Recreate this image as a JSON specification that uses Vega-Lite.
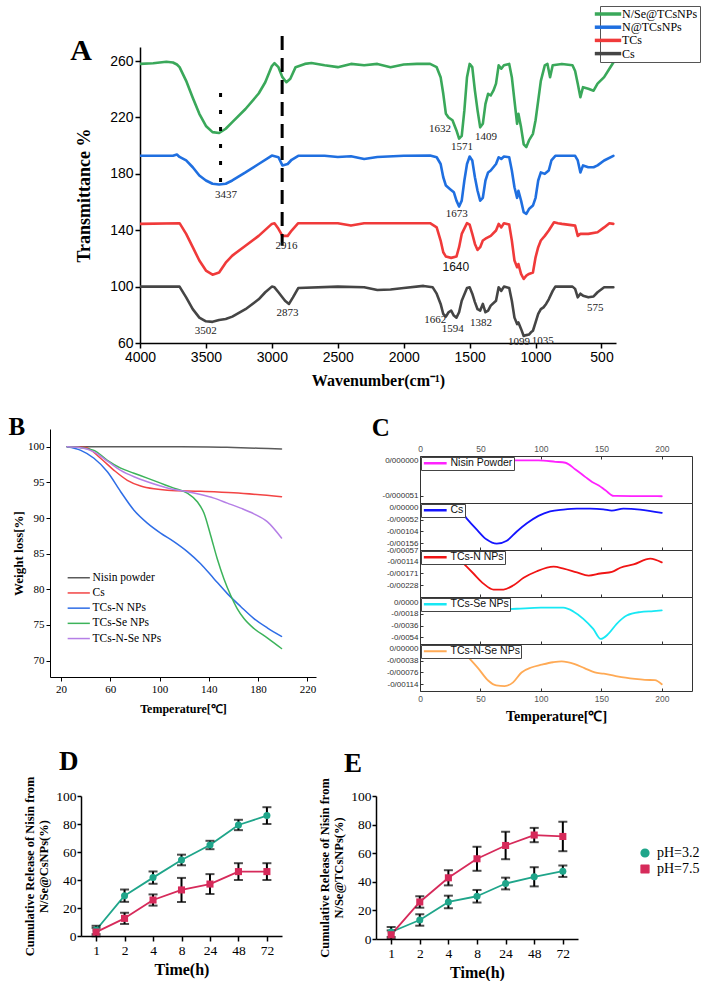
{
"$schema": "https://vega.github.io/schema/vega-lite/v6.json",
"background": "white",
"padding": {"left": 7, "top": 5, "right": 0, "bottom": 0},
"spacing": 27,
"resolve": {"scale": {"color": "independent", "shape": "independent", "strokeDash": "independent"}},
"config": {
  "view": {"stroke": null},
  "font": "Liberation Serif",
  "axis": {"grid": false, "domainColor": "#000", "tickColor": "#000", "labelColor": "#000", "titleColor": "#000", "labelFont": "Liberation Serif", "titleFont": "Liberation Serif", "labelFlush": false, "labelOverlap": false},
  "line": {"strokeCap": "round", "strokeJoin": "round"}
},
"datasets": {
  "ftir": [
{"s":"N/Se@TCsNPs","w":4000,"t":258},{"s":"N/Se@TCsNPs","w":3900,"t":258.5},{"s":"N/Se@TCsNPs","w":3800,"t":259.5},{"s":"N/Se@TCsNPs","w":3750,"t":259},{"s":"N/Se@TCsNPs","w":3720,"t":257.6},{"s":"N/Se@TCsNPs","w":3700,"t":255.7},{"s":"N/Se@TCsNPs","w":3650,"t":246},{"s":"N/Se@TCsNPs","w":3600,"t":234},{"s":"N/Se@TCsNPs","w":3550,"t":222.6},{"s":"N/Se@TCsNPs","w":3500,"t":214},{"s":"N/Se@TCsNPs","w":3450,"t":209.6},{"s":"N/Se@TCsNPs","w":3400,"t":209},{"s":"N/Se@TCsNPs","w":3350,"t":212},{"s":"N/Se@TCsNPs","w":3300,"t":216.7},{"s":"N/Se@TCsNPs","w":3200,"t":226},{"s":"N/Se@TCsNPs","w":3100,"t":237},{"s":"N/Se@TCsNPs","w":3050,"t":245},{"s":"N/Se@TCsNPs","w":3000,"t":256.5},{"s":"N/Se@TCsNPs","w":2980,"t":258.5},{"s":"N/Se@TCsNPs","w":2950,"t":255.7},{"s":"N/Se@TCsNPs","w":2920,"t":248.6},{"s":"N/Se@TCsNPs","w":2890,"t":245},{"s":"N/Se@TCsNPs","w":2860,"t":247.5},{"s":"N/Se@TCsNPs","w":2820,"t":255.7},{"s":"N/Se@TCsNPs","w":2750,"t":258},{"s":"N/Se@TCsNPs","w":2700,"t":258.6},{"s":"N/Se@TCsNPs","w":2600,"t":257},{"s":"N/Se@TCsNPs","w":2500,"t":255.7},{"s":"N/Se@TCsNPs","w":2400,"t":258},{"s":"N/Se@TCsNPs","w":2300,"t":257},{"s":"N/Se@TCsNPs","w":2200,"t":258},{"s":"N/Se@TCsNPs","w":2100,"t":255.7},{"s":"N/Se@TCsNPs","w":2000,"t":257.6},{"s":"N/Se@TCsNPs","w":1900,"t":258},{"s":"N/Se@TCsNPs","w":1800,"t":258},{"s":"N/Se@TCsNPs","w":1750,"t":255.7},{"s":"N/Se@TCsNPs","w":1720,"t":248.6},{"s":"N/Se@TCsNPs","w":1700,"t":236.8},{"s":"N/Se@TCsNPs","w":1680,"t":222.6},{"s":"N/Se@TCsNPs","w":1660,"t":220},{"s":"N/Se@TCsNPs","w":1630,"t":218},{"s":"N/Se@TCsNPs","w":1600,"t":210.8},{"s":"N/Se@TCsNPs","w":1580,"t":205},{"s":"N/Se@TCsNPs","w":1560,"t":207},{"s":"N/Se@TCsNPs","w":1540,"t":225},{"s":"N/Se@TCsNPs","w":1520,"t":248.6},{"s":"N/Se@TCsNPs","w":1500,"t":258},{"s":"N/Se@TCsNPs","w":1480,"t":255.7},{"s":"N/Se@TCsNPs","w":1460,"t":239},{"s":"N/Se@TCsNPs","w":1440,"t":225},{"s":"N/Se@TCsNPs","w":1420,"t":213},{"s":"N/Se@TCsNPs","w":1400,"t":215.5},{"s":"N/Se@TCsNPs","w":1380,"t":229.7},{"s":"N/Se@TCsNPs","w":1360,"t":236.8},{"s":"N/Se@TCsNPs","w":1340,"t":235.6},{"s":"N/Se@TCsNPs","w":1320,"t":239},{"s":"N/Se@TCsNPs","w":1300,"t":244},{"s":"N/Se@TCsNPs","w":1280,"t":257},{"s":"N/Se@TCsNPs","w":1260,"t":254.6},{"s":"N/Se@TCsNPs","w":1240,"t":257},{"s":"N/Se@TCsNPs","w":1200,"t":258},{"s":"N/Se@TCsNPs","w":1180,"t":248.6},{"s":"N/Se@TCsNPs","w":1160,"t":232},{"s":"N/Se@TCsNPs","w":1140,"t":215.5},{"s":"N/Se@TCsNPs","w":1130,"t":222.6},{"s":"N/Se@TCsNPs","w":1110,"t":213},{"s":"N/Se@TCsNPs","w":1090,"t":201},{"s":"N/Se@TCsNPs","w":1070,"t":199},{"s":"N/Se@TCsNPs","w":1050,"t":203.7},{"s":"N/Se@TCsNPs","w":1020,"t":208.4},{"s":"N/Se@TCsNPs","w":1000,"t":218},{"s":"N/Se@TCsNPs","w":980,"t":232},{"s":"N/Se@TCsNPs","w":960,"t":246},{"s":"N/Se@TCsNPs","w":930,"t":257},{"s":"N/Se@TCsNPs","w":910,"t":258},{"s":"N/Se@TCsNPs","w":890,"t":248.6},{"s":"N/Se@TCsNPs","w":870,"t":257},{"s":"N/Se@TCsNPs","w":800,"t":258},{"s":"N/Se@TCsNPs","w":720,"t":257},{"s":"N/Se@TCsNPs","w":700,"t":253},{"s":"N/Se@TCsNPs","w":680,"t":244},{"s":"N/Se@TCsNPs","w":660,"t":234.4},{"s":"N/Se@TCsNPs","w":640,"t":241.5},{"s":"N/Se@TCsNPs","w":600,"t":240.4},{"s":"N/Se@TCsNPs","w":560,"t":239},{"s":"N/Se@TCsNPs","w":530,"t":244},{"s":"N/Se@TCsNPs","w":480,"t":248.6},{"s":"N/Se@TCsNPs","w":440,"t":254.6},{"s":"N/Se@TCsNPs","w":410,"t":259},
{"s":"N@TCsNPs","w":4000,"t":192.8},{"s":"N@TCsNPs","w":3750,"t":192.8},{"s":"N@TCsNPs","w":3720,"t":193.7},{"s":"N@TCsNPs","w":3700,"t":192},{"s":"N@TCsNPs","w":3650,"t":189.5},{"s":"N@TCsNPs","w":3600,"t":184.7},{"s":"N@TCsNPs","w":3550,"t":178.8},{"s":"N@TCsNPs","w":3500,"t":175.3},{"s":"N@TCsNPs","w":3450,"t":173},{"s":"N@TCsNPs","w":3400,"t":172.4},{"s":"N@TCsNPs","w":3350,"t":173},{"s":"N@TCsNPs","w":3300,"t":175.3},{"s":"N@TCsNPs","w":3200,"t":181},{"s":"N@TCsNPs","w":3100,"t":187},{"s":"N@TCsNPs","w":3000,"t":193},{"s":"N@TCsNPs","w":2950,"t":191.8},{"s":"N@TCsNPs","w":2920,"t":186},{"s":"N@TCsNPs","w":2880,"t":187},{"s":"N@TCsNPs","w":2850,"t":190},{"s":"N@TCsNPs","w":2800,"t":192.8},{"s":"N@TCsNPs","w":2600,"t":192.8},{"s":"N@TCsNPs","w":2500,"t":192},{"s":"N@TCsNPs","w":2400,"t":192.5},{"s":"N@TCsNPs","w":2300,"t":190.6},{"s":"N@TCsNPs","w":2200,"t":192},{"s":"N@TCsNPs","w":2000,"t":192.8},{"s":"N@TCsNPs","w":1800,"t":193},{"s":"N@TCsNPs","w":1750,"t":191.8},{"s":"N@TCsNPs","w":1720,"t":187},{"s":"N@TCsNPs","w":1700,"t":177.6},{"s":"N@TCsNPs","w":1680,"t":171.7},{"s":"N@TCsNPs","w":1650,"t":169.3},{"s":"N@TCsNPs","w":1620,"t":167},{"s":"N@TCsNPs","w":1600,"t":161},{"s":"N@TCsNPs","w":1580,"t":156.8},{"s":"N@TCsNPs","w":1560,"t":161},{"s":"N@TCsNPs","w":1540,"t":175.3},{"s":"N@TCsNPs","w":1520,"t":187},{"s":"N@TCsNPs","w":1500,"t":192.3},{"s":"N@TCsNPs","w":1480,"t":189.5},{"s":"N@TCsNPs","w":1460,"t":177.6},{"s":"N@TCsNPs","w":1440,"t":168},{"s":"N@TCsNPs","w":1420,"t":161},{"s":"N@TCsNPs","w":1400,"t":163},{"s":"N@TCsNPs","w":1380,"t":175.3},{"s":"N@TCsNPs","w":1360,"t":181},{"s":"N@TCsNPs","w":1340,"t":182.4},{"s":"N@TCsNPs","w":1300,"t":187},{"s":"N@TCsNPs","w":1280,"t":191.8},{"s":"N@TCsNPs","w":1260,"t":190.6},{"s":"N@TCsNPs","w":1240,"t":192.3},{"s":"N@TCsNPs","w":1200,"t":191.8},{"s":"N@TCsNPs","w":1180,"t":182.4},{"s":"N@TCsNPs","w":1160,"t":170.5},{"s":"N@TCsNPs","w":1140,"t":163},{"s":"N@TCsNPs","w":1130,"t":168},{"s":"N@TCsNPs","w":1110,"t":161},{"s":"N@TCsNPs","w":1090,"t":152.8},{"s":"N@TCsNPs","w":1070,"t":151.6},{"s":"N@TCsNPs","w":1050,"t":155},{"s":"N@TCsNPs","w":1020,"t":157.5},{"s":"N@TCsNPs","w":1000,"t":163},{"s":"N@TCsNPs","w":980,"t":175.3},{"s":"N@TCsNPs","w":960,"t":181},{"s":"N@TCsNPs","w":930,"t":180},{"s":"N@TCsNPs","w":900,"t":182.4},{"s":"N@TCsNPs","w":880,"t":189.5},{"s":"N@TCsNPs","w":850,"t":192.8},{"s":"N@TCsNPs","w":700,"t":192.8},{"s":"N@TCsNPs","w":680,"t":189.5},{"s":"N@TCsNPs","w":660,"t":181},{"s":"N@TCsNPs","w":640,"t":186},{"s":"N@TCsNPs","w":600,"t":184.7},{"s":"N@TCsNPs","w":560,"t":184.7},{"s":"N@TCsNPs","w":530,"t":186},{"s":"N@TCsNPs","w":480,"t":189.5},{"s":"N@TCsNPs","w":410,"t":192.8},
{"s":"TCs","w":4000,"t":144.5},{"s":"TCs","w":3700,"t":145},{"s":"TCs","w":3650,"t":137.4},{"s":"TCs","w":3600,"t":128},{"s":"TCs","w":3550,"t":118.5},{"s":"TCs","w":3500,"t":111.4},{"s":"TCs","w":3450,"t":108.5},{"s":"TCs","w":3400,"t":110},{"s":"TCs","w":3350,"t":117},{"s":"TCs","w":3300,"t":122},{"s":"TCs","w":3200,"t":129},{"s":"TCs","w":3100,"t":136},{"s":"TCs","w":3000,"t":144.5},{"s":"TCs","w":2980,"t":145},{"s":"TCs","w":2950,"t":141},{"s":"TCs","w":2920,"t":136},{"s":"TCs","w":2880,"t":136},{"s":"TCs","w":2850,"t":139.8},{"s":"TCs","w":2800,"t":145},{"s":"TCs","w":2500,"t":145},{"s":"TCs","w":2400,"t":143.3},{"s":"TCs","w":2300,"t":145},{"s":"TCs","w":1800,"t":145},{"s":"TCs","w":1750,"t":142},{"s":"TCs","w":1720,"t":132.7},{"s":"TCs","w":1700,"t":124.4},{"s":"TCs","w":1680,"t":121.3},{"s":"TCs","w":1640,"t":120.4},{"s":"TCs","w":1600,"t":121.3},{"s":"TCs","w":1580,"t":128},{"s":"TCs","w":1560,"t":137.4},{"s":"TCs","w":1520,"t":145},{"s":"TCs","w":1500,"t":144},{"s":"TCs","w":1480,"t":137.4},{"s":"TCs","w":1460,"t":130.3},{"s":"TCs","w":1440,"t":126},{"s":"TCs","w":1420,"t":128},{"s":"TCs","w":1400,"t":132.7},{"s":"TCs","w":1380,"t":134},{"s":"TCs","w":1340,"t":136},{"s":"TCs","w":1300,"t":139.8},{"s":"TCs","w":1280,"t":144.5},{"s":"TCs","w":1260,"t":142},{"s":"TCs","w":1240,"t":145},{"s":"TCs","w":1200,"t":144},{"s":"TCs","w":1180,"t":132.7},{"s":"TCs","w":1160,"t":118.5},{"s":"TCs","w":1140,"t":113.8},{"s":"TCs","w":1130,"t":116},{"s":"TCs","w":1110,"t":109},{"s":"TCs","w":1090,"t":105.4},{"s":"TCs","w":1070,"t":107.8},{"s":"TCs","w":1050,"t":109},{"s":"TCs","w":1020,"t":110},{"s":"TCs","w":1000,"t":120.8},{"s":"TCs","w":980,"t":128},{"s":"TCs","w":960,"t":132.7},{"s":"TCs","w":930,"t":136},{"s":"TCs","w":900,"t":139.8},{"s":"TCs","w":860,"t":145.7},{"s":"TCs","w":830,"t":145},{"s":"TCs","w":800,"t":144.5},{"s":"TCs","w":700,"t":143.3},{"s":"TCs","w":680,"t":136},{"s":"TCs","w":660,"t":137.4},{"s":"TCs","w":600,"t":137.4},{"s":"TCs","w":530,"t":138.6},{"s":"TCs","w":480,"t":142},{"s":"TCs","w":440,"t":145},{"s":"TCs","w":410,"t":144.5},
{"s":"Cs","w":4000,"t":100},{"s":"Cs","w":3700,"t":100},{"s":"Cs","w":3650,"t":92.4},{"s":"Cs","w":3600,"t":84},{"s":"Cs","w":3550,"t":78},{"s":"Cs","w":3500,"t":75.4},{"s":"Cs","w":3450,"t":75},{"s":"Cs","w":3400,"t":76.3},{"s":"Cs","w":3350,"t":77},{"s":"Cs","w":3300,"t":78.7},{"s":"Cs","w":3200,"t":84},{"s":"Cs","w":3100,"t":91},{"s":"Cs","w":3050,"t":96},{"s":"Cs","w":3000,"t":100},{"s":"Cs","w":2980,"t":99.5},{"s":"Cs","w":2950,"t":96},{"s":"Cs","w":2900,"t":90},{"s":"Cs","w":2870,"t":87.7},{"s":"Cs","w":2840,"t":92.4},{"s":"Cs","w":2800,"t":99},{"s":"Cs","w":2500,"t":100},{"s":"Cs","w":2300,"t":99.5},{"s":"Cs","w":2200,"t":97.6},{"s":"Cs","w":2100,"t":98},{"s":"Cs","w":2000,"t":99},{"s":"Cs","w":1850,"t":100.5},{"s":"Cs","w":1780,"t":99.5},{"s":"Cs","w":1750,"t":95},{"s":"Cs","w":1720,"t":87.7},{"s":"Cs","w":1700,"t":80.6},{"s":"Cs","w":1680,"t":78.7},{"s":"Cs","w":1660,"t":81.8},{"s":"Cs","w":1640,"t":83},{"s":"Cs","w":1620,"t":79.5},{"s":"Cs","w":1600,"t":78},{"s":"Cs","w":1580,"t":81.8},{"s":"Cs","w":1560,"t":90},{"s":"Cs","w":1520,"t":99},{"s":"Cs","w":1500,"t":99.5},{"s":"Cs","w":1480,"t":95},{"s":"Cs","w":1460,"t":89},{"s":"Cs","w":1440,"t":84},{"s":"Cs","w":1420,"t":83},{"s":"Cs","w":1400,"t":87.7},{"s":"Cs","w":1380,"t":81.8},{"s":"Cs","w":1360,"t":83},{"s":"Cs","w":1340,"t":86.5},{"s":"Cs","w":1300,"t":90},{"s":"Cs","w":1280,"t":99.5},{"s":"Cs","w":1260,"t":97},{"s":"Cs","w":1240,"t":100},{"s":"Cs","w":1200,"t":99},{"s":"Cs","w":1180,"t":90},{"s":"Cs","w":1160,"t":78},{"s":"Cs","w":1140,"t":73.4},{"s":"Cs","w":1130,"t":74.6},{"s":"Cs","w":1110,"t":70},{"s":"Cs","w":1090,"t":65},{"s":"Cs","w":1070,"t":65.6},{"s":"Cs","w":1050,"t":66},{"s":"Cs","w":1035,"t":67.6},{"s":"Cs","w":1020,"t":68.7},{"s":"Cs","w":1000,"t":74.6},{"s":"Cs","w":980,"t":80.6},{"s":"Cs","w":960,"t":84},{"s":"Cs","w":940,"t":85.3},{"s":"Cs","w":920,"t":87.7},{"s":"Cs","w":900,"t":91},{"s":"Cs","w":870,"t":97},{"s":"Cs","w":850,"t":100},{"s":"Cs","w":720,"t":100},{"s":"Cs","w":700,"t":98.4},{"s":"Cs","w":680,"t":92.4},{"s":"Cs","w":660,"t":95},{"s":"Cs","w":640,"t":93.6},{"s":"Cs","w":600,"t":92.4},{"s":"Cs","w":560,"t":93},{"s":"Cs","w":530,"t":96},{"s":"Cs","w":480,"t":99.5},{"s":"Cs","w":410,"t":99.5}
  ],
  "ftir_notes": [
{"w":3348,"t":165.1,"lab":"3437"},{"w":2888,"t":128.9,"lab":"2916"},{"w":3502,"t":68.3,"lab":"3502"},{"w":2881,"t":81.1,"lab":"2873"},{"w":1725,"t":211.5,"lab":"1632"},{"w":1557,"t":198.9,"lab":"1571"},{"w":1375,"t":205.8,"lab":"1409"},{"w":1598,"t":151.6,"lab":"1673"},{"w":1760,"t":76.6,"lab":"1662"},{"w":1629,"t":70,"lab":"1594"},{"w":1413,"t":74.2,"lab":"1382"},{"w":1125,"t":60.5,"lab":"1099"},{"w":946,"t":61.4,"lab":"1035"},{"w":548,"t":84.8,"lab":"575"}
  ],
  "ftir_lines": [
{"w":3389,"t":237.3,"t2":172.9,"k":"dot"},{"w":2922,"t":277.8,"t2":129,"k":"dash"}
  ],
  "tga": [
{"s":"Nisin powder","T":25,"W":100},{"s":"Nisin powder","T":60,"W":100},{"s":"Nisin powder","T":100,"W":100},{"s":"Nisin powder","T":140,"W":99.98},{"s":"Nisin powder","T":160,"W":99.9},{"s":"Nisin powder","T":180,"W":99.8},{"s":"Nisin powder","T":199,"W":99.7},
{"s":"Cs","T":25,"W":100},{"s":"Cs","T":40,"W":99.9},{"s":"Cs","T":52,"W":98.4},{"s":"Cs","T":63,"W":96.7},{"s":"Cs","T":73.8,"W":95.3},{"s":"Cs","T":84.6,"W":94.5},{"s":"Cs","T":95.4,"W":94.1},{"s":"Cs","T":106.3,"W":93.9},{"s":"Cs","T":133.3,"W":93.75},{"s":"Cs","T":160,"W":93.55},{"s":"Cs","T":199,"W":93.0},
{"s":"TCs-N NPs","T":25,"W":100},{"s":"TCs-N NPs","T":36,"W":99.5},{"s":"TCs-N NPs","T":46.7,"W":98.4},{"s":"TCs-N NPs","T":57.6,"W":96.5},{"s":"TCs-N NPs","T":68.4,"W":93.7},{"s":"TCs-N NPs","T":79.2,"W":91.1},{"s":"TCs-N NPs","T":90,"W":89.3},{"s":"TCs-N NPs","T":100.8,"W":87.9},{"s":"TCs-N NPs","T":111.6,"W":86.7},{"s":"TCs-N NPs","T":122.5,"W":85.3},{"s":"TCs-N NPs","T":133.3,"W":83.6},{"s":"TCs-N NPs","T":144.1,"W":81.5},{"s":"TCs-N NPs","T":155,"W":79.4},{"s":"TCs-N NPs","T":165.8,"W":77.6},{"s":"TCs-N NPs","T":176.6,"W":75.9},{"s":"TCs-N NPs","T":187.4,"W":74.6},{"s":"TCs-N NPs","T":199,"W":73.4},
{"s":"TCs-Se NPs","T":25,"W":100},{"s":"TCs-Se NPs","T":35,"W":99.9},{"s":"TCs-Se NPs","T":46.7,"W":99.5},{"s":"TCs-Se NPs","T":57.6,"W":98.1},{"s":"TCs-Se NPs","T":68.4,"W":97},{"s":"TCs-Se NPs","T":79.2,"W":96.3},{"s":"TCs-Se NPs","T":90,"W":95.6},{"s":"TCs-Se NPs","T":100.8,"W":94.9},{"s":"TCs-Se NPs","T":111.6,"W":94.2},{"s":"TCs-Se NPs","T":122.5,"W":93.5},{"s":"TCs-Se NPs","T":130.6,"W":92.3},{"s":"TCs-Se NPs","T":136,"W":90.7},{"s":"TCs-Se NPs","T":141.4,"W":87.6},{"s":"TCs-Se NPs","T":146.8,"W":84.3},{"s":"TCs-Se NPs","T":152.2,"W":81.5},{"s":"TCs-Se NPs","T":157.6,"W":79.2},{"s":"TCs-Se NPs","T":163,"W":77.3},{"s":"TCs-Se NPs","T":168.5,"W":75.9},{"s":"TCs-Se NPs","T":176.6,"W":74.5},{"s":"TCs-Se NPs","T":187.4,"W":73.2},{"s":"TCs-Se NPs","T":199,"W":71.7},
{"s":"TCs-N-Se NPs","T":25,"W":100},{"s":"TCs-N-Se NPs","T":35,"W":99.9},{"s":"TCs-N-Se NPs","T":46.7,"W":99.3},{"s":"TCs-N-Se NPs","T":57.6,"W":98},{"s":"TCs-N-Se NPs","T":68.4,"W":96.7},{"s":"TCs-N-Se NPs","T":79.2,"W":95.8},{"s":"TCs-N-Se NPs","T":90,"W":95.1},{"s":"TCs-N-Se NPs","T":100.8,"W":94.5},{"s":"TCs-N-Se NPs","T":111.6,"W":94},{"s":"TCs-N-Se NPs","T":122.5,"W":93.7},{"s":"TCs-N-Se NPs","T":133.3,"W":93.3},{"s":"TCs-N-Se NPs","T":144.1,"W":92.8},{"s":"TCs-N-Se NPs","T":155,"W":92.1},{"s":"TCs-N-Se NPs","T":165.8,"W":91.4},{"s":"TCs-N-Se NPs","T":176.6,"W":90.6},{"s":"TCs-N-Se NPs","T":187.4,"W":89.5},{"s":"TCs-N-Se NPs","T":199,"W":87.2}
  ],
  "c1": [
{"s":"Nisin Powder","T":30,"v":0},{"s":"Nisin Powder","T":70,"v":0},{"s":"Nisin Powder","T":98,"v":0},{"s":"Nisin Powder","T":112,"v":-0.000002},{"s":"Nisin Powder","T":120.3,"v":-0.0000034},{"s":"Nisin Powder","T":128.6,"v":-0.000013},{"s":"Nisin Powder","T":136.9,"v":-0.000024},{"s":"Nisin Powder","T":142.4,"v":-0.000031},{"s":"Nisin Powder","T":147.9,"v":-0.000036},{"s":"Nisin Powder","T":153.4,"v":-0.000043},{"s":"Nisin Powder","T":160.3,"v":-0.000051},{"s":"Nisin Powder","T":175,"v":-0.0000512},{"s":"Nisin Powder","T":200,"v":-0.0000515}
  ],
  "c2": [
{"s":"Cs","T":25,"v":0},{"s":"Cs","T":31.8,"v":-0.00001},{"s":"Cs","T":38.7,"v":-0.00047},{"s":"Cs","T":47,"v":-0.00096},{"s":"Cs","T":55.2,"v":-0.0014},{"s":"Cs","T":63.5,"v":-0.00158},{"s":"Cs","T":71.8,"v":-0.00145},{"s":"Cs","T":80.1,"v":-0.00104},{"s":"Cs","T":88.4,"v":-0.00068},{"s":"Cs","T":98,"v":-0.00035},{"s":"Cs","T":107.6,"v":-0.00015},{"s":"Cs","T":118.6,"v":-0.00007},{"s":"Cs","T":129.7,"v":-0.00003},{"s":"Cs","T":140.7,"v":-0.00003},{"s":"Cs","T":151.7,"v":-0.00006},{"s":"Cs","T":158.6,"v":-0.00012},{"s":"Cs","T":168.3,"v":-0.00003},{"s":"Cs","T":182,"v":-0.00007},{"s":"Cs","T":200,"v":-0.00022}
  ],
  "c3": [
{"s":"TCs-N NPs","T":35.9,"v":-0.00122},{"s":"TCs-N NPs","T":44.2,"v":-0.00171},{"s":"TCs-N NPs","T":52.5,"v":-0.0022},{"s":"TCs-N NPs","T":60.8,"v":-0.00249},{"s":"TCs-N NPs","T":69.1,"v":-0.00249},{"s":"TCs-N NPs","T":77.4,"v":-0.00228},{"s":"TCs-N NPs","T":85.7,"v":-0.00192},{"s":"TCs-N NPs","T":96.7,"v":-0.0016},{"s":"TCs-N NPs","T":110.5,"v":-0.00138},{"s":"TCs-N NPs","T":118.8,"v":-0.00147},{"s":"TCs-N NPs","T":129.8,"v":-0.00166},{"s":"TCs-N NPs","T":139.5,"v":-0.00181},{"s":"TCs-N NPs","T":149.1,"v":-0.00171},{"s":"TCs-N NPs","T":158.8,"v":-0.00163},{"s":"TCs-N NPs","T":165.7,"v":-0.00143},{"s":"TCs-N NPs","T":176.7,"v":-0.00127},{"s":"TCs-N NPs","T":190.5,"v":-0.00099},{"s":"TCs-N NPs","T":200,"v":-0.00117}
  ],
  "c4": [
{"s":"TCs-Se NPs","T":66.2,"v":-0.00113},{"s":"TCs-Se NPs","T":80,"v":-0.00103},{"s":"TCs-Se NPs","T":100,"v":-0.00087},{"s":"TCs-Se NPs","T":118.5,"v":-0.00087},{"s":"TCs-Se NPs","T":126.8,"v":-0.00144},{"s":"TCs-Se NPs","T":135.1,"v":-0.00257},{"s":"TCs-Se NPs","T":143.3,"v":-0.00412},{"s":"TCs-Se NPs","T":149.5,"v":-0.00566},{"s":"TCs-Se NPs","T":155.8,"v":-0.00489},{"s":"TCs-Se NPs","T":162.7,"v":-0.00334},{"s":"TCs-Se NPs","T":171,"v":-0.00206},{"s":"TCs-Se NPs","T":182,"v":-0.00154},{"s":"TCs-Se NPs","T":193,"v":-0.00139},{"s":"TCs-Se NPs","T":200,"v":-0.00129}
  ],
  "c5": [
{"s":"TCs-N-Se NPs","T":40,"v":-0.00027},{"s":"TCs-N-Se NPs","T":48,"v":-0.00062},{"s":"TCs-N-Se NPs","T":56.6,"v":-0.00103},{"s":"TCs-N-Se NPs","T":63,"v":-0.00118},{"s":"TCs-N-Se NPs","T":70,"v":-0.0012},{"s":"TCs-N-Se NPs","T":77,"v":-0.00108},{"s":"TCs-N-Se NPs","T":84,"v":-0.00076},{"s":"TCs-N-Se NPs","T":92,"v":-0.0006},{"s":"TCs-N-Se NPs","T":100.6,"v":-0.00051},{"s":"TCs-N-Se NPs","T":110,"v":-0.00043},{"s":"TCs-N-Se NPs","T":117.2,"v":-0.0004},{"s":"TCs-N-Se NPs","T":128,"v":-0.00049},{"s":"TCs-N-Se NPs","T":136,"v":-0.00062},{"s":"TCs-N-Se NPs","T":144.6,"v":-0.00076},{"s":"TCs-N-Se NPs","T":152,"v":-0.0008},{"s":"TCs-N-Se NPs","T":161.2,"v":-0.00087},{"s":"TCs-N-Se NPs","T":170,"v":-0.00093},{"s":"TCs-N-Se NPs","T":177.8,"v":-0.00097},{"s":"TCs-N-Se NPs","T":186,"v":-0.001},{"s":"TCs-N-Se NPs","T":194.3,"v":-0.00101},{"s":"TCs-N-Se NPs","T":200,"v":-0.00114}
  ],
  "rel_d": [
{"time":1,"ph":"pH=3.2","m":4.3,"e":3},{"time":2,"ph":"pH=3.2","m":28.8,"e":4.4},{"time":4,"ph":"pH=3.2","m":41.7,"e":4.4},{"time":8,"ph":"pH=3.2","m":54.3,"e":3.8},{"time":24,"ph":"pH=3.2","m":65,"e":3},{"time":48,"ph":"pH=3.2","m":79.3,"e":3.7},{"time":72,"ph":"pH=3.2","m":86,"e":6},
{"time":1,"ph":"pH=7.5","m":2.8,"e":3},{"time":2,"ph":"pH=7.5","m":12.6,"e":4},{"time":4,"ph":"pH=7.5","m":25.7,"e":4},{"time":8,"ph":"pH=7.5","m":32.9,"e":8.6},{"time":24,"ph":"pH=7.5","m":37.1,"e":7.1},{"time":48,"ph":"pH=7.5","m":46,"e":6},{"time":72,"ph":"pH=7.5","m":46,"e":6}
  ],
  "rel_e": [
{"time":1,"ph":"pH=3.2","m":4.9,"e":3.5},{"time":2,"ph":"pH=3.2","m":13.3,"e":4},{"time":4,"ph":"pH=3.2","m":25.9,"e":4.4},{"time":8,"ph":"pH=3.2","m":29.9,"e":4.4},{"time":24,"ph":"pH=3.2","m":38.8,"e":4.1},{"time":48,"ph":"pH=3.2","m":43.5,"e":6.7},{"time":72,"ph":"pH=3.2","m":47.4,"e":4},
{"time":1,"ph":"pH=7.5","m":3,"e":3},{"time":2,"ph":"pH=7.5","m":25.9,"e":4},{"time":4,"ph":"pH=7.5","m":42.8,"e":5.3},{"time":8,"ph":"pH=7.5","m":56.1,"e":8.4},{"time":24,"ph":"pH=7.5","m":65.4,"e":9.6},{"time":48,"ph":"pH=7.5","m":72.7,"e":5},{"time":72,"ph":"pH=7.5","m":71.7,"e":10.3}
  ]
},
"vconcat": [
 {
  "hconcat": [
   {"width": 63, "height": 1, "data": {"values": [{"a": 0}]}, "mark": {"type": "rect", "opacity": 0}, "encoding": {}},
   {
    "width": 476, "height": 296,
    "layer": [
     {
      "data": {"name": "ftir"},
      "mark": {"type": "line", "strokeWidth": 2.6, "clip": true},
      "encoding": {
       "x": {"field": "w", "type": "quantitative", "scale": {"domain": [390, 4000], "reverse": true, "nice": false, "zero": false},
             "axis": {"values": [4000,3500,3000,2500,2000,1500,1000,500], "format": "d", "labelFont": "Liberation Sans", "labelFontSize": 14, "tickSize": 5, "tickWidth": 1.5, "domainWidth": 1.5, "labelPadding": 2,
                      "title": "Wavenumber(cm⁻¹)", "titleFontSize": 16, "titleFontWeight": "bold", "titlePadding": 8}},
       "y": {"field": "t", "type": "quantitative", "scale": {"domain": [60, 270], "nice": false, "zero": false},
             "axis": {"values": [60,80,100,120,140,160,180,200,220,240,260], "labelFont": "Liberation Sans", "labelFontSize": 14, "tickSize": 5, "tickWidth": 1.5, "domainWidth": 1.5, "labelPadding": 2,
                      "title": "Transmittance %", "titleFontSize": 18, "titleFontWeight": "bold", "titlePadding": 16}},
       "color": {"field": "s", "type": "nominal",
                 "scale": {"domain": ["N/Se@TCsNPs","N@TCsNPs","TCs","Cs"], "range": ["#3aa85a","#1f6fe0","#f03a3a","#454545"]},
                 "legend": {"orient": "none", "legendX": 460, "legendY": -41, "title": null, "symbolType": "M-3.3,0H3.3", "symbolStrokeWidth": 3.5, "symbolSize": 64,
                            "labelFont": "Liberation Serif", "labelFontSize": 12, "labelColor": "#000", "fillColor": "white", "strokeColor": "#555", "padding": 2, "rowPadding": 1.2, "labelOffset": 8}}
      }
     },
     {
      "data": {"name": "ftir_lines"},
      "mark": {"type": "rule", "strokeWidth": 3, "color": "#000"},
      "encoding": {
       "x": {"field": "w", "type": "quantitative"},
       "y": {"field": "t", "type": "quantitative"},
       "y2": {"field": "t2"},
       "strokeDash": {"field": "k", "type": "nominal", "scale": {"domain": ["dot","dash"], "range": [[4,13],[14,8]]}, "legend": null}
      }
     },
     {
      "data": {"name": "ftir_notes"},
      "mark": {"type": "text", "font": "Liberation Serif", "fontSize": 11, "color": "#222"},
      "encoding": {
       "x": {"field": "w", "type": "quantitative"},
       "y": {"field": "t", "type": "quantitative"},
       "text": {"field": "lab"}
      }
     },
     {
      "data": {"values": [{"w": 1605, "t": 113.7, "lab": "1640"}]},
      "mark": {"type": "text", "font": "Liberation Sans", "fontSize": 12, "color": "#111"},
      "encoding": {
       "x": {"field": "w", "type": "quantitative"},
       "y": {"field": "t", "type": "quantitative"},
       "text": {"field": "lab"}
      }
     },
     {
      "data": {"values": [{"w": 4446, "t": 260.5, "lab": "A"}]},
      "mark": {"type": "text", "font": "Liberation Serif", "fontSize": 30, "fontWeight": "bold", "baseline": "alphabetic", "color": "#000"},
      "encoding": {
       "x": {"field": "w", "type": "quantitative"},
       "y": {"field": "t", "type": "quantitative"},
       "text": {"field": "lab"}
      }
     }
    ]
   }
  ],
  "spacing": 0,
  "resolve": {"scale": {"color": "independent", "shape": "independent", "strokeDash": "independent"}}
 },
 {
 "vconcat": [
 {
  "hconcat": [
   {
    "hconcat": [
     {"width": 1, "height": 1, "data": {"values": [{"a": 0}]}, "mark": {"type": "rect", "opacity": 0}, "encoding": {}},
     {
      "width": 266, "height": 248,
      "layer": [
       {
        "data": {"name": "tga"},
        "mark": {"type": "line", "strokeWidth": 1.5, "interpolate": "monotone"},
        "encoding": {
         "x": {"field": "T", "type": "quantitative", "scale": {"domain": [11, 227], "nice": false, "zero": false},
               "axis": {"values": [20,40,60,80,100,120,140,160,180,200,220], "labelFontSize": 11, "tickSize": 4, "labelPadding": 2,
                        "title": "Temperature[℃]", "titleFontSize": 12, "titleFontWeight": "bold", "titlePadding": 9}},
         "y": {"field": "W", "type": "quantitative", "scale": {"domain": [67.7, 102.5], "nice": false, "zero": false},
               "axis": {"values": [70,75,80,85,90,95,100], "labelFontSize": 11, "tickSize": 4, "labelPadding": 2,
                        "title": "Weight loss[%]", "titleFontSize": 13, "titleFontWeight": "bold", "titlePadding": 2}},
         "color": {"field": "s", "type": "nominal",
                   "scale": {"domain": ["Nisin powder","Cs","TCs-N NPs","TCs-Se NPs","TCs-N-Se NPs"], "range": ["#5a5a5a","#f24444","#2e6de6","#3cb35a","#b57fe6"]},
                   "legend": {"orient": "none", "legendX": 23, "legendY": 143, "title": null, "symbolType": "M-3.7,0H3.7", "symbolSize": 36, "symbolStrokeWidth": 1.5,
                              "labelFont": "Liberation Serif", "labelFontSize": 11.5, "labelColor": "#000", "padding": 0, "rowPadding": 2.2, "labelOffset": 8}}
        }
       },
       {
        "data": {"values": [{"T": -16, "W": 101.6, "lab": "B"}]},
        "mark": {"type": "text", "font": "Liberation Serif", "fontSize": 25, "fontWeight": "bold", "baseline": "alphabetic", "color": "#000"},
        "encoding": {
         "x": {"field": "T", "type": "quantitative"},
         "y": {"field": "W", "type": "quantitative"},
         "text": {"field": "lab"}
        }
       }
      ]
     }
    ],
    "spacing": 0,
    "resolve": {"scale": {"color": "independent"}}
   },
   {
    "vconcat": [
     {"width": 272, "height": 27, "data": {"values": [{"a": 0}]}, "mark": {"type": "rect", "opacity": 0}, "encoding": {}},
     {
      "width": 272, "height": 47,
      "view": {"stroke": "#333", "strokeWidth": 1},
      "layer": [
       {
        "data": {"name": "c1"},
        "mark": {"type": "line", "strokeWidth": 1.8, "interpolate": "monotone"},
        "encoding": {
         "x": {"field": "T", "type": "quantitative", "scale": {"domain": [0, 225], "nice": false, "zero": false},
               "axis": {"orient": "top", "values": [0,50,100,150,200], "labelFont": "Liberation Sans", "labelFontSize": 8.5, "labelColor": "#555", "tickSize": -3, "tickColor": "#333", "labelPadding": 6, "domain": false, "title": null}},
         "y": {"field": "v", "type": "quantitative", "scale": {"domain": [-0.0000612, 0.0000063], "nice": false, "zero": false},
               "axis": {"values": [0,-0.000017,-0.000034,-0.000051], "labelExpr": "replace(replace(format(datum.value, '.6f'), '.', '/'), '−', '-')", "labelFont": "Liberation Sans", "labelFontSize": 8, "labelColor": "#333", "tickSize": -3, "tickColor": "#333", "labelPadding": 5, "domain": false, "title": null}},
         "color": {"field": "s", "type": "nominal", "scale": {"domain": ["Nisin Powder"], "range": ["#ff22ff"]},
                   "legend": {"orient": "top-left", "offset": 1, "title": null, "symbolType": "M-3.8,0H3.8", "symbolSize": 36, "symbolOffset": 8, "symbolStrokeWidth": 2.5, "labelFont": "Liberation Sans", "labelFontSize": 10.5, "labelColor": "#111", "fillColor": "white", "strokeColor": "#444", "padding": 1, "labelOffset": 10}}
        }
       },
       {
        "data": {"values": [{"T": -32.5, "v": 0.000035, "lab": "C"}]},
        "mark": {"type": "text", "font": "Liberation Serif", "fontSize": 25, "fontWeight": "bold", "baseline": "alphabetic", "color": "#000"},
        "encoding": {
         "x": {"field": "T", "type": "quantitative"},
         "y": {"field": "v", "type": "quantitative"},
         "text": {"field": "lab"}
        }
       }
      ]
     },
     {
      "width": 272, "height": 47,
      "view": {"stroke": "#333", "strokeWidth": 1},
      "data": {"name": "c2"},
      "mark": {"type": "line", "strokeWidth": 1.8, "interpolate": "monotone"},
      "encoding": {
       "x": {"field": "T", "type": "quantitative", "scale": {"domain": [0, 225], "nice": false, "zero": false},
             "axis": {"values": [0,50,100,150,200], "labels": false, "tickSize": -3, "tickColor": "#333", "domain": false, "title": null}},
       "y": {"field": "v", "type": "quantitative", "scale": {"domain": [-0.00186, 0.00022], "nice": false, "zero": false},
             "axis": {"values": [0,-0.00052,-0.00104,-0.00156], "labelExpr": "replace(replace(format(datum.value, '.5f'), '.', '/'), '−', '-')", "labelFont": "Liberation Sans", "labelFontSize": 8, "labelColor": "#333", "tickSize": -3, "tickColor": "#333", "labelPadding": 5, "domain": false, "title": null}},
       "color": {"field": "s", "type": "nominal", "scale": {"domain": ["Cs"], "range": ["#1414ff"]},
                 "legend": {"orient": "top-left", "offset": 1, "title": null, "symbolType": "M-3.8,0H3.8", "symbolSize": 36, "symbolOffset": 8, "symbolStrokeWidth": 2.5, "labelFont": "Liberation Sans", "labelFontSize": 10.5, "labelColor": "#111", "fillColor": "white", "strokeColor": "#444", "padding": 1, "labelOffset": 10}}
      }
     },
     {
      "width": 272, "height": 47,
      "view": {"stroke": "#333", "strokeWidth": 1},
      "data": {"name": "c3"},
      "mark": {"type": "line", "strokeWidth": 1.8, "interpolate": "monotone"},
      "encoding": {
       "x": {"field": "T", "type": "quantitative", "scale": {"domain": [0, 225], "nice": false, "zero": false},
             "axis": {"values": [0,50,100,150,200], "labels": false, "tickSize": -3, "tickColor": "#333", "domain": false, "title": null}},
       "y": {"field": "v", "type": "quantitative", "scale": {"domain": [-0.00285, -0.00057], "nice": false, "zero": false},
             "axis": {"values": [-0.00057,-0.00114,-0.00171,-0.00228], "labelExpr": "replace(replace(format(datum.value, '.5f'), '.', '/'), '−', '-')", "labelFont": "Liberation Sans", "labelFontSize": 8, "labelColor": "#333", "tickSize": -3, "tickColor": "#333", "labelPadding": 5, "domain": false, "title": null}},
       "color": {"field": "s", "type": "nominal", "scale": {"domain": ["TCs-N NPs"], "range": ["#f01414"]},
                 "legend": {"orient": "top-left", "offset": 1, "title": null, "symbolType": "M-3.8,0H3.8", "symbolSize": 36, "symbolOffset": 8, "symbolStrokeWidth": 2.5, "labelFont": "Liberation Sans", "labelFontSize": 10.5, "labelColor": "#111", "fillColor": "white", "strokeColor": "#444", "padding": 1, "labelOffset": 10}}
      }
     },
     {
      "width": 272, "height": 47,
      "view": {"stroke": "#333", "strokeWidth": 1},
      "data": {"name": "c4"},
      "mark": {"type": "line", "strokeWidth": 1.8, "interpolate": "monotone"},
      "encoding": {
       "x": {"field": "T", "type": "quantitative", "scale": {"domain": [0, 225], "nice": false, "zero": false},
             "axis": {"values": [0,50,100,150,200], "labels": false, "tickSize": -3, "tickColor": "#333", "domain": false, "title": null}},
       "y": {"field": "v", "type": "quantitative", "scale": {"domain": [-0.00643, 0.00077], "nice": false, "zero": false},
             "axis": {"values": [0,-0.0018,-0.0036,-0.0054], "labelExpr": "replace(replace(format(datum.value, '.4f'), '.', '/'), '−', '-')", "labelFont": "Liberation Sans", "labelFontSize": 8, "labelColor": "#333", "tickSize": -3, "tickColor": "#333", "labelPadding": 5, "domain": false, "title": null}},
       "color": {"field": "s", "type": "nominal", "scale": {"domain": ["TCs-Se NPs"], "range": ["#18e8f4"]},
                 "legend": {"orient": "top-left", "offset": 1, "title": null, "symbolType": "M-3.8,0H3.8", "symbolSize": 36, "symbolOffset": 8, "symbolStrokeWidth": 2.5, "labelFont": "Liberation Sans", "labelFontSize": 10.5, "labelColor": "#111", "fillColor": "white", "strokeColor": "#444", "padding": 1, "labelOffset": 10}}
      }
     },
     {
      "width": 272, "height": 47,
      "view": {"stroke": "#333", "strokeWidth": 1},
      "data": {"name": "c5"},
      "mark": {"type": "line", "strokeWidth": 1.8, "interpolate": "monotone"},
      "encoding": {
       "x": {"field": "T", "type": "quantitative", "scale": {"domain": [0, 225], "nice": false, "zero": false},
             "axis": {"values": [0,50,100,150,200], "labelFont": "Liberation Sans", "labelFontSize": 8.5, "labelColor": "#555", "tickSize": -3, "tickColor": "#333", "labelPadding": 6, "domain": false,
                      "title": "Temperature[℃]", "titleFontSize": 14, "titleFontWeight": "bold", "titlePadding": 7}},
       "y": {"field": "v", "type": "quantitative", "scale": {"domain": [-0.00136, 0.00016], "nice": false, "zero": false},
             "axis": {"values": [0,-0.00038,-0.00076,-0.00114], "labelExpr": "replace(replace(format(datum.value, '.5f'), '.', '/'), '−', '-')", "labelFont": "Liberation Sans", "labelFontSize": 8, "labelColor": "#333", "tickSize": -3, "tickColor": "#333", "labelPadding": 5, "domain": false, "title": null}},
       "color": {"field": "s", "type": "nominal", "scale": {"domain": ["TCs-N-Se NPs"], "range": ["#ffaa55"]},
                 "legend": {"orient": "top-left", "offset": 1, "title": null, "symbolType": "M-3.8,0H3.8", "symbolSize": 36, "symbolOffset": 8, "symbolStrokeWidth": 2, "labelFont": "Liberation Sans", "labelFontSize": 10.5, "labelColor": "#111", "fillColor": "white", "strokeColor": "#444", "padding": 1, "labelOffset": 10}}
      }
     }
    ],
    "spacing": 0,
    "bounds": "flush",
    "resolve": {"scale": {"color": "independent"}}
   }
  ],
  "spacing": 55,
  "resolve": {"scale": {"color": "independent", "shape": "independent", "strokeDash": "independent"}}
 },
 {
  "hconcat": [
   {
    "hconcat": [
     {"width": 16, "height": 1, "data": {"values": [{"a": 0}]}, "mark": {"type": "rect", "opacity": 0}, "encoding": {}},
     {
      "width": 201, "height": 140,
      "title": {"text": "D", "anchor": "start", "frame": "group", "dx": -22, "offset": 0, "font": "Liberation Serif", "fontSize": 27, "fontWeight": "bold", "color": "#000"},
      "data": {"name": "rel_d"},
      "encoding": {
       "x": {"field": "time", "type": "ordinal", "scale": {"type": "point", "padding": 0.53},
             "axis": {"labelAngle": 0, "labelFontSize": 13.5, "tickSize": 5, "tickWidth": 1.5, "domainWidth": 1.5, "labelPadding": 2, "title": "Time(h)", "titleFontSize": 16, "titleFontWeight": "bold", "titlePadding": 5}},
       "y": {"field": "m", "type": "quantitative", "scale": {"domain": [0, 100], "nice": false},
             "axis": {"values": [0,20,40,60,80,100], "labelFontSize": 13.5, "tickSize": 4, "tickWidth": 1.5, "domainWidth": 1.5, "labelPadding": 1,
                      "title": ["Cumulative Release of Nisin from", "N/Se@CsNPs(%)"], "titleFontSize": 12.5, "titleFontWeight": "bold", "titleLineHeight": 14.5, "titlePadding": 5}}
      },
      "layer": [
       {"mark": {"type": "line", "strokeWidth": 1.8},
        "encoding": {
         "color": {"field": "ph", "type": "nominal", "scale": {"domain": ["pH=3.2","pH=7.5"], "range": ["#1fa58a","#d62a5a"]}, "legend": null}
        }},
       {"mark": {"type": "errorbar", "color": "#000", "ticks": {"size": 9, "thickness": 2, "color": "#000"}, "rule": {"strokeWidth": 2, "color": "#000"}},
        "encoding": {
         "yError": {"field": "e"}
        }},
       {"mark": {"type": "point", "filled": true, "size": 50, "opacity": 1},
        "encoding": {
         "color": {"field": "ph", "type": "nominal", "legend": null},
         "shape": {"field": "ph", "type": "nominal", "scale": {"domain": ["pH=3.2","pH=7.5"], "range": ["circle","square"]}, "legend": null}
        }}
      ]
     }
    ],
    "spacing": 0,
    "resolve": {"scale": {"color": "independent", "shape": "independent"}}
   },
   {
    "width": 202, "height": 143,
    "title": {"text": "E", "anchor": "start", "frame": "group", "dx": -32, "offset": 0, "font": "Liberation Serif", "fontSize": 27, "fontWeight": "bold", "color": "#000"},
    "data": {"name": "rel_e"},
    "encoding": {
     "x": {"field": "time", "type": "ordinal", "scale": {"type": "point", "padding": 0.53},
           "axis": {"labelAngle": 0, "labelFontSize": 13.5, "tickSize": 5, "tickWidth": 1.5, "domainWidth": 1.5, "labelPadding": 2, "title": "Time(h)", "titleFontSize": 16, "titleFontWeight": "bold", "titlePadding": 5}},
     "y": {"field": "m", "type": "quantitative", "scale": {"domain": [0, 100], "nice": false},
           "axis": {"values": [0,20,40,60,80,100], "labelFontSize": 13.5, "tickSize": 4, "tickWidth": 1.5, "domainWidth": 1.5, "labelPadding": 1,
                    "title": ["Cumulative Release of Nisin from", "N/Se@TCsNPs(%)"], "titleFontSize": 12.5, "titleFontWeight": "bold", "titleLineHeight": 14.5, "titlePadding": 5}}
    },
    "layer": [
     {"mark": {"type": "line", "strokeWidth": 1.8},
      "encoding": {
       "color": {"field": "ph", "type": "nominal", "scale": {"domain": ["pH=3.2","pH=7.5"], "range": ["#1fa58a","#d62a5a"]},
                 "legend": {"orient": "none", "legendX": 262, "legendY": 50, "title": null, "labelFont": "Liberation Serif", "labelFontSize": 14, "labelColor": "#000", "symbolSize": 60, "rowPadding": 2, "labelOffset": 5}}
      }},
     {"mark": {"type": "errorbar", "color": "#000", "ticks": {"size": 9, "thickness": 2, "color": "#000"}, "rule": {"strokeWidth": 2, "color": "#000"}},
      "encoding": {
       "yError": {"field": "e"}
      }},
     {"mark": {"type": "point", "filled": true, "size": 50, "opacity": 1},
      "encoding": {
       "color": {"field": "ph", "type": "nominal", "legend": {"orient": "none", "legendX": 262, "legendY": 50, "title": null, "labelFont": "Liberation Serif", "labelFontSize": 14, "labelColor": "#000", "symbolSize": 60, "rowPadding": 2, "labelOffset": 5}},
       "shape": {"field": "ph", "type": "nominal", "scale": {"domain": ["pH=3.2","pH=7.5"], "range": ["circle","square"]},
                 "legend": {"orient": "none", "legendX": 262, "legendY": 50, "title": null, "labelFont": "Liberation Serif", "labelFontSize": 14, "labelColor": "#000", "symbolSize": 60, "rowPadding": 2, "labelOffset": 5}}
      }}
    ]
   }
  ],
  "spacing": 36,
  "resolve": {"scale": {"color": "independent", "shape": "independent"}}
 }
 ],
 "spacing": 24,
 "resolve": {"scale": {"color": "independent", "shape": "independent", "strokeDash": "independent"}}
 }
]
}
